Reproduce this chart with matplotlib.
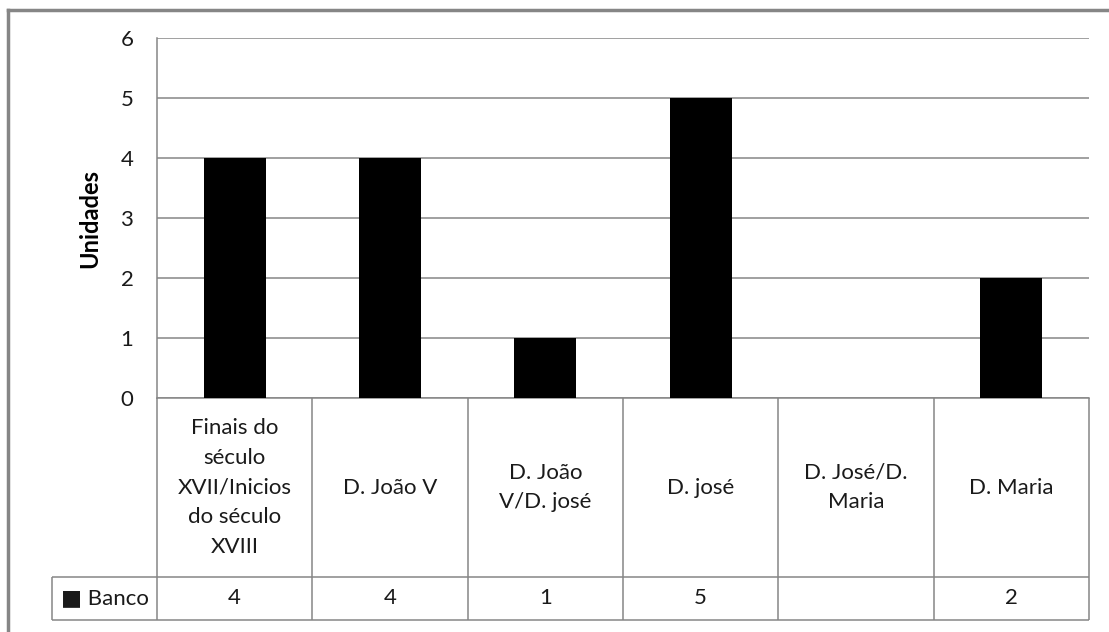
import matplotlib.pyplot as plt
from matplotlib.lines import Line2D

categorias = ["Finais do\nséculo\nXVII/Inicios\ndo século\nXVIII",
              "D. João V",
              "D. João\nV/D. josé",
              "D. josé",
              "D. José/D.\nMaria",
              "D. Maria"]
banco = [4, 4, 1, 5, None, 2]
serie = "Banco"
yticks = [0, 1, 2, 3, 4, 5, 6]

plt.rcParams['font.family'] = ['Lato', 'DejaVu Sans']
grey = "#868686"
fs = 16

W, H = 1109, 632
fig = plt.figure(figsize=(W/100, H/100), dpi=100)

# plot area (pixels)
x0, x1, y0, y1 = 157, 1089, 38, 398
ax = fig.add_axes([x0/W, 1-y1/H, (x1-x0)/W, (y1-y0)/H])

n = len(categorias)
xs = list(range(n))
vals = [v if v is not None else 0 for v in banco]
ax.bar(xs, vals, width=0.4, color="black", zorder=3)
ax.set_xlim(-0.5, n-0.5)
ax.set_ylim(0, 6)
ax.set_yticks(yticks)
ax.set_xticks([])
ax.grid(axis="y", color=grey, linewidth=1.1, zorder=0)
ax.tick_params(axis="y", length=0, pad=17, labelsize=fs, labelcolor="#1a1a1a")
for s in ["top", "right"]:
    ax.spines[s].set_visible(False)
for s in ["left", "bottom"]:
    ax.spines[s].set_color(grey)
    ax.spines[s].set_linewidth(1.1)
ax.set_ylabel("Unidades", fontsize=fs+1, fontweight="bold", labelpad=14)

# data table under the axis (x in data units, y in axes fraction)
tr = ax.get_xaxis_transform()
px_unit = (x1 - x0) / n
y_head = -(577 - y1) / (y1 - y0)
y_bot = -(620 - y1) / (y1 - y0)
x_leg = -0.5 - (x0 - 52) / px_unit
bounds = [i - 0.5 for i in range(n + 1)]
kw = dict(colors=grey, linewidth=1.1, transform=tr, clip_on=False)
ax.vlines(bounds, y_bot, 0, **kw)
ax.vlines([x_leg], y_bot, y_head, **kw)
ax.hlines([y_head, y_bot], x_leg, n - 0.5, **kw)

for i, lab in enumerate(categorias):
    ax.text(i, y_head / 2, lab, transform=tr, ha="center", va="center",
            fontsize=fs, linespacing=1.6, color="#1a1a1a")
for i, v in enumerate(banco):
    if v is not None:
        ax.text(i, (y_head + y_bot) / 2, str(v), transform=tr, ha="center",
                va="center", fontsize=fs, color="#1a1a1a")
ax.text(-0.5 - (x0 - 61) / px_unit, (y_head + y_bot) / 2, "■ " + serie,
        transform=tr, ha="left", va="center", fontsize=fs, color="#1a1a1a")

# chart area frame (cropped: only top and left show)
fig.add_artist(Line2D([8/W, 8/W], [0, 1-10/H], color=grey, linewidth=2.5))
fig.add_artist(Line2D([8/W, 1], [1-10/H, 1-10/H], color=grey, linewidth=2.5))

fig.savefig("out.png", dpi=100)
